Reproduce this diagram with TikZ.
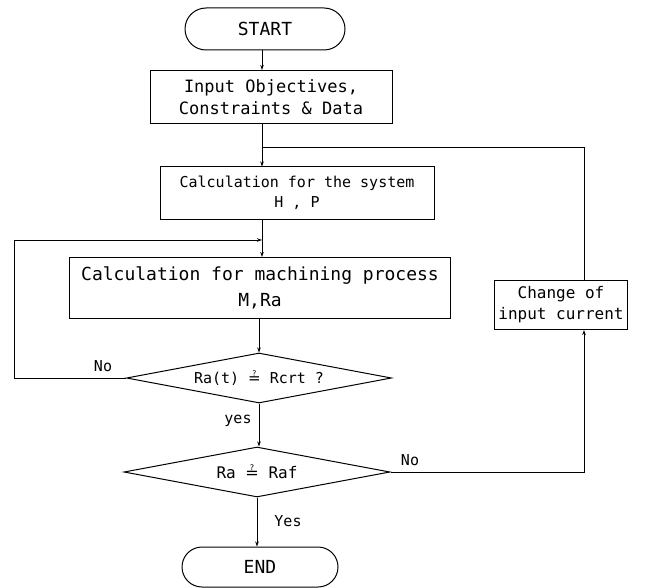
\documentclass[tikz,border=0pt]{standalone}
\usepackage{fontspec}
\setmainfont{DejaVu Sans Mono}
\newfontfamily\symfont{DejaVu Sans}
\usetikzlibrary{shapes.geometric,shapes.misc,arrows.meta}
\newcommand{\qeq}{{\symfont ≟}}
\begin{document}
\begin{tikzpicture}[x=1pt,y=-1pt,
  box/.style={draw,line width=1pt,rectangle,inner sep=0pt,align=center},
  term/.style={draw,line width=1pt,rounded rectangle,inner sep=0pt},
  dec/.style={draw,line width=1pt,diamond,inner sep=0pt,aspect=5},
  conn/.style={line width=1pt},
  arr/.style={conn,-{Stealth[length=5pt,width=3.5pt]}},
  lab/.style={font=\fontsize{15}{17}\selectfont}]
\useasboundingbox (0,0) rectangle (663,588);
\coordinate (sp) at (262,0);
\coordinate (fx) at (584,0);
\coordinate (lx) at (14,0);
\node[term,minimum width=160pt,minimum height=42pt,font=\fontsize{18}{20}\selectfont] (start) at (265,29) {START};
\node[box,minimum width=242pt,minimum height=53pt,font=\fontsize{17}{22}\selectfont] (input) at (271,97) {Input Objectives,\\Constraints \& Data};
\node[box,minimum width=274pt,minimum height=52pt,font=\fontsize{15}{20}\selectfont] (sys) at (297,193) {Calculation for the system\\H , P};
\node[box,minimum width=381pt,minimum height=61pt,font=\fontsize{18}{26}\selectfont] (mach) at (260,288) {Calculation for machining process\\M,Ra};
\node[dec,minimum width=265pt,minimum height=50pt,font=\fontsize{15}{17}\selectfont] (d1) at (259,378) {Ra(t) \qeq\ Rcrt ?};
\node[dec,minimum width=266pt,minimum height=50pt,font=\fontsize{16}{18}\selectfont] (d2) at (257,472) {Ra \qeq\ Raf};
\node[box,minimum width=133pt,minimum height=49pt,font=\fontsize{16}{21}\selectfont] (chg) at (561,305) {Change of\\input current};
\node[term,minimum width=156pt,minimum height=40pt,font=\fontsize{18}{20}\selectfont] (end) at (260,567) {END};
\coordinate (j1) at (262,148);
\coordinate (j2) at (262,240);
% spine
\draw[arr] (start.south -| sp) -- (input.north -| sp);
\draw[conn] (input.south -| sp) -- (j1);
\draw[arr] (j1) -- (sys.north -| sp);
\draw[conn] (sys.south -| sp) -- (j2);
\draw[arr] (j2) -- (mach.north -| sp);
\draw[arr] (mach.south -| d1.north) -- (d1.north);
\draw[arr] (d1.south) -- (d2.north -| d1.south);
\draw[arr] (d2.south) -- (end.north -| d2.south);
% loops
\draw[arr] (d1.west) -- (d1.west -| lx) -- (j2 -| lx) -- (j2);
\draw[arr] (d2.east) -- (d2.east -| fx) -- (chg.south -| fx);
\draw[conn] (chg.north -| fx) -- (j1 -| fx) -- (j1);
% labels
\node[lab] (lno1) at (103,366) {No};
\node[lab] (lyes1) at (238,421) {yes};
\node[lab] (lno2) at (410,460) {No};
\node[lab] (lyes2) at (288,521) {Yes};
\end{tikzpicture}
\end{document}
